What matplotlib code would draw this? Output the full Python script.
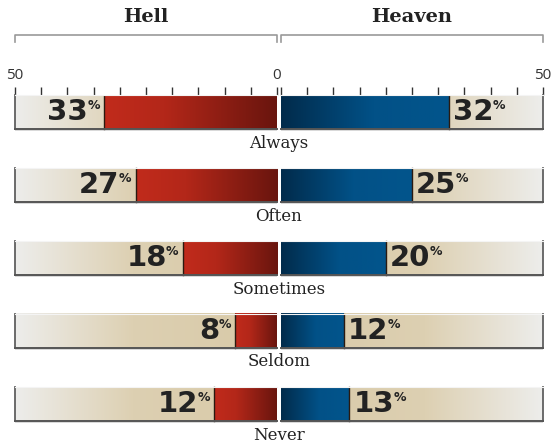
import numpy as np
import matplotlib
matplotlib.use("Agg")
import matplotlib.pyplot as plt
from matplotlib.colors import LinearSegmentedColormap
from matplotlib.patches import Rectangle

categories = ["Always", "Often", "Sometimes", "Seldom", "Never"]
hell = [33, 27, 18, 8, 12]
heaven = [32, 25, 20, 12, 13]
ticks = list(range(0, 51, 5))

W, H = 553, 443
SERIF = "DejaVu Serif"
NUM_FONT = "DejaVu Sans"
TICK_FONT = "Open Sans"

bg_cmap = LinearSegmentedColormap.from_list(
    "bg", [(0, "#ededeb"), (0.45, "#ddd0b2"), (1, "#d8c9a7")])
red_cmap = LinearSegmentedColormap.from_list(
    "red", [(0, "#c12b1c"), (0.35, "#b32719"), (1, "#69150e")])
blue_cmap = LinearSegmentedColormap.from_list(
    "blue", [(0, "#012b4b"), (0.55, "#025187"), (1, "#02558c")])

fig = plt.figure(figsize=(W / 100, H / 100), dpi=100)
fig.patch.set_facecolor("white")
renderer = fig.canvas.get_renderer()

top_px = 95
row0_px = 112 - top_px
row_gap = 73.0
ax_h = (H - top_px) / H
ylim = ((H - top_px - row0_px) / row_gap, -row0_px / row_gap)
bar_h = 34 / row_gap
px_y = 1 / row_gap
px_x = 50 / 262

ax_l = fig.add_axes([15 / W, 0, 262 / W, ax_h])
ax_r = fig.add_axes([281 / W, 0, 262 / W, ax_h])

grad = np.linspace(0, 1, 256).reshape(1, -1)

for side, ax in (("left", ax_l), ("right", ax_r)):
    if side == "left":
        ax.set_xlim(-50, 0)
        ax.set_xticks([-t for t in ticks])
        ax.set_xticklabels(["0" if t == 0 else ("50" if t == 50 else "") for t in ticks])
    else:
        ax.set_xlim(0, 50)
        ax.set_xticks(ticks)
        ax.set_xticklabels(["50" if t == 50 else "" for t in ticks])
    ax.set_ylim(*ylim)
    ax.set_yticks([])
    ax.xaxis.tick_top()
    ax.tick_params(axis="x", direction="out", length=5.8, width=1, color="#333333",
                   pad=3, labelsize=11, labelcolor="#333333")
    for lab in ax.get_xticklabels():
        lab.set_fontfamily(TICK_FONT)
    for s in ax.spines.values():
        s.set_visible(False)
    ax.set_facecolor("none")

txt_kw = dict(fontfamily=NUM_FONT, fontweight="bold", color="#222222", zorder=5)
PCT_SIZE = 9

for i, (cat, hv, vv) in enumerate(zip(categories, hell, heaven)):
    y0 = i - bar_h / 2
    y1 = i + bar_h / 2
    for side, ax, val, cmap in (("left", ax_l, hv, red_cmap), ("right", ax_r, vv, blue_cmap)):
        sgn = -1 if side == "left" else 1
        # shadow
        ax.add_patch(Rectangle((0, y1 - 0.5 * px_y), sgn * (50 + 0.5 * px_x), 2.5 * px_y,
                               facecolor="#000000", alpha=0.15, lw=0, zorder=1))
        # background gradient
        g = grad if side == "left" else grad[:, ::-1]
        ax.imshow(g, cmap=bg_cmap, aspect="auto",
                  extent=[-50, 0, y1, y0] if side == "left" else [0, 50, y1, y0],
                  zorder=2, interpolation="bilinear")
        # value bar gradient
        ext = [-val, 0, y1, y0] if side == "left" else [0, val, y1, y0]
        ax.imshow(grad, cmap=cmap, aspect="auto", extent=ext, zorder=3, interpolation="bilinear")
        # divider line at bar end
        ax.plot([sgn * val, sgn * val], [y0, y1], color="#2a1a10", lw=1, zorder=4)
        # outer edge and bottom edge
        ax.plot([sgn * 50, sgn * 50], [y0, y1], color="#606060", lw=1.3, zorder=4, clip_on=False)
        ax.plot([0, sgn * 50], [y1, y1], color="#555555", lw=1.4, zorder=4, clip_on=False)
        ax.plot([0, sgn * 50], [y0, y0], color="#f4f4f4", lw=0.8, zorder=4, clip_on=False)
        ax.set_xlim(*((-50, 0) if side == "left" else (0, 50)))
        ax.set_ylim(*ylim)

    # heaven label: number then superscript %
    num = ax_r.annotate(str(vv), xy=(vv, i), xytext=(3, 0), textcoords="offset points",
                        ha="left", va="center", fontsize=21, **txt_kw)
    ax_r.annotate("%", xy=(1, 1), xycoords=num, xytext=(-0.5, -0.5), textcoords="offset points",
                  ha="left", va="top", fontsize=PCT_SIZE, **txt_kw)
    # hell label: measure % width so the number sits left of it
    pct_probe = fig.text(0, 0, "%", fontsize=PCT_SIZE, **txt_kw)
    pct_w = pct_probe.get_window_extent(renderer).width * 72 / fig.dpi
    pct_probe.remove()
    num_l = ax_l.annotate(str(hv), xy=(-hv, i), xytext=(-3 - pct_w + 0.5, 0),
                          textcoords="offset points", ha="right", va="center",
                          fontsize=21, **txt_kw)
    ax_l.annotate("%", xy=(1, 1), xycoords=num_l, xytext=(-0.5, -0.5), textcoords="offset points",
                  ha="left", va="top", fontsize=PCT_SIZE, **txt_kw)
    # category label
    fig.text(279 / W, 1 - (143 + 73 * i) / H, cat, ha="center", va="center",
             fontsize=12, fontfamily=SERIF, color="#222222")

# headers and brackets
for (x0, x1, title) in ((15, 277, "Hell"), (281, 543, "Heaven")):
    fig.text((x0 + x1) / 2 / W, 1 - 17 / H, title, ha="center", va="center",
             fontsize=14, fontfamily=SERIF, fontweight="bold", color="#222222")
    fig.add_artist(plt.Line2D([x0 / W, x0 / W, x1 / W, x1 / W],
                              [1 - 42 / H, 1 - 35 / H, 1 - 35 / H, 1 - 42 / H],
                              color="#999999", lw=1.2))

fig.savefig("out.png", dpi=100, facecolor="white")
